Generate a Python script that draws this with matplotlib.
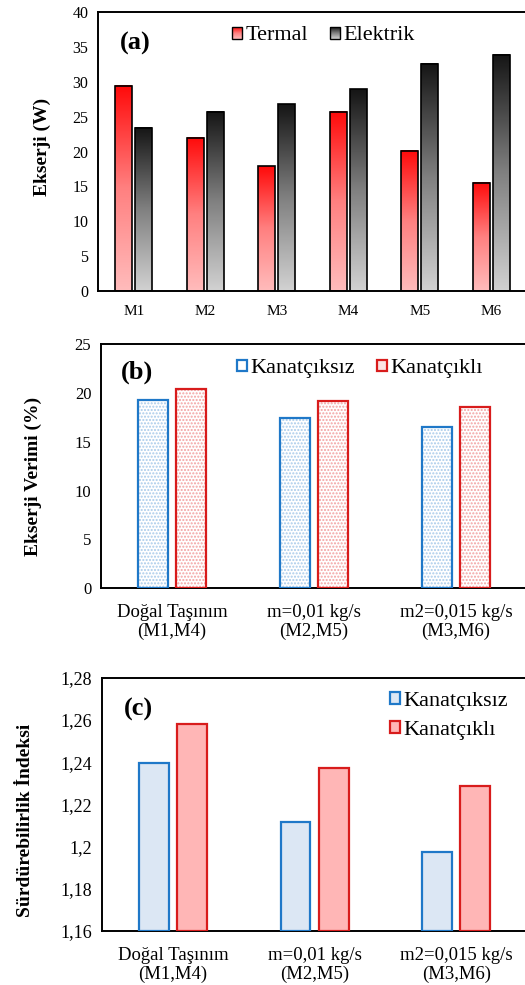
import numpy as np
import matplotlib
matplotlib.use('Agg')
import matplotlib.pyplot as plt
from matplotlib.patches import Rectangle, Patch
from matplotlib.legend_handler import HandlerBase
from matplotlib.image import BboxImage
from matplotlib.transforms import Bbox, TransformedBbox
from matplotlib.colors import LinearSegmentedColormap

plt.rcParams['font.family'] = ['Liberation Serif', 'DejaVu Serif']

# (a) exergy
modes = ['M1', 'M2', 'M3', 'M4', 'M5', 'M6']
termal = [29.4, 22.0, 17.9, 25.7, 20.1, 15.5]
elektrik = [23.4, 25.7, 26.8, 28.9, 32.6, 33.9]

# (b) and (c)
cases = ['Doğal Taşınım\n(M1,M4)', 'm=0,01 kg/s\n(M2,M5)', 'm2=0,015 kg/s\n(M3,M6)']
verim_kanatciksiz = [19.3, 17.4, 16.5]
verim_kanatcikli = [20.4, 19.2, 18.6]
sidx_kanatciksiz = [1.2396, 1.2116, 1.1974]
sidx_kanatcikli = [1.2579, 1.2374, 1.2288]
sidx_ticks = [1.16, 1.18, 1.20, 1.22, 1.24, 1.26, 1.28]
sidx_ticklabels = ['1,16', '1,18', '1,2', '1,22', '1,24', '1,26', '1,28']

red_cmap = LinearSegmentedColormap.from_list('r', ['#ffbcbc', '#ff8080', '#ff0a0a'])
gray_cmap = LinearSegmentedColormap.from_list('g', ['#d2d2d2', '#808080', '#151515'])
grad = np.linspace(0, 1, 256).reshape(-1, 1)

BLUE = '#1f78c8'
RED = '#d81c1c'


class GradientHandler(HandlerBase):
    def __init__(self, cmap):
        super().__init__()
        self.cmap = cmap

    def create_artists(self, legend, orig_handle, xdescent, ydescent,
                       width, height, fontsize, trans):
        bb = Bbox.from_bounds(-xdescent, -ydescent, width, height)
        img = BboxImage(TransformedBbox(bb, trans), cmap=self.cmap,
                        origin='lower', interpolation='bilinear')
        img.set_data(grad)
        rect = Rectangle((-xdescent, -ydescent), width, height,
                         facecolor='none', edgecolor='black', lw=1.0,
                         transform=trans)
        return [img, rect]


def style_axes(ax, tick_size):
    for s in ax.spines.values():
        s.set_linewidth(1.4)
    ax.tick_params(length=0, labelsize=tick_size, pad=7)


fig = plt.figure(figsize=(5.25, 9.85), dpi=100)

# ---- panel (a)
ax1 = fig.add_axes([98 / 525, 694 / 985, 429 / 525, 279 / 985])
x = np.arange(len(modes))
w = 0.235
off = 0.14
b1 = ax1.bar(x - off, termal, w, facecolor='none', edgecolor='black', lw=1.2, zorder=3)
b2 = ax1.bar(x + off, elektrik, w, facecolor='none', edgecolor='black', lw=1.2, zorder=3)
for bars, cmap in ((b1, red_cmap), (b2, gray_cmap)):
    for r in bars:
        ax1.imshow(grad, cmap=cmap, origin='lower', aspect='auto',
                   extent=(r.get_x(), r.get_x() + r.get_width(), 0, r.get_height()),
                   zorder=2, interpolation='bilinear')
ax1.set_xlim(-0.5, 5.5)
ax1.set_ylim(0, 40)
ax1.set_yticks(range(0, 41, 5))
ax1.set_xticks(x)
ax1.set_xticklabels(modes)
style_axes(ax1, 11.5)
ax1.tick_params(axis='x', labelsize=11, pad=10)
ax1.set_ylabel('Ekserji (W)', fontsize=14, fontweight='bold')
ax1.yaxis.set_label_coords(-0.110, 0.516)
ax1.text(0.087, 0.889, '(a)', transform=ax1.transAxes, fontsize=19,
         fontweight='bold', ha='center', va='center')
h1, h2 = Patch(), Patch()
ax1.legend([h1, h2], ['Termal', 'Elektrik'], handler_map={h1: GradientHandler(red_cmap), h2: GradientHandler(gray_cmap)},
           loc='center', bbox_to_anchor=(0.526, 0.914), ncol=2, frameon=False,
           fontsize=16, handlelength=0.45, handleheight=0.45, handletextpad=0.15,
           columnspacing=1.0, borderpad=0)

# ---- panel (b)
ax2 = fig.add_axes([101 / 525, 396.7 / 985, 426 / 525, 244.3 / 985])
x3 = np.arange(len(cases))
w3 = 0.21
off3 = 0.135
ax2.bar(x3 - off3, verim_kanatciksiz, w3, facecolor='white', edgecolor='#a9cbea',
        hatch='.....', lw=0, zorder=2)
ax2.bar(x3 - off3, verim_kanatciksiz, w3, facecolor='none', edgecolor=BLUE, lw=1.6, zorder=3)
ax2.bar(x3 + off3, verim_kanatcikli, w3, facecolor='white', edgecolor='#f2a2a2',
        hatch='.....', lw=0, zorder=2)
ax2.bar(x3 + off3, verim_kanatcikli, w3, facecolor='none', edgecolor=RED, lw=1.6, zorder=3)
ax2.set_xlim(-0.5, 2.5)
ax2.set_ylim(0, 25)
ax2.set_yticks(range(0, 26, 5))
ax2.set_xticks(x3)
ax2.set_xticklabels(cases, fontsize=13.5, linespacing=1.08)
style_axes(ax2, 12)
ax2.tick_params(axis='x', labelsize=13.5, pad=11.5)
ax2.set_ylabel('Ekserji Verimi (%)', fontsize=14, fontweight='bold')
ax2.yaxis.set_label_coords(-0.138, 0.456)
ax2.text(0.085, 0.885, '(b)', transform=ax2.transAxes, fontsize=19,
         fontweight='bold', ha='center', va='center')
hb = [Patch(facecolor='white', edgecolor=BLUE, lw=1.6),
      Patch(facecolor='#fbe3e3', edgecolor=RED, lw=1.6)]
ax2.legend(hb, ['Kanatçıksız', 'Kanatçıklı'], loc='center',
           bbox_to_anchor=(0.607, 0.898), ncol=2, frameon=False, fontsize=16,
           handlelength=0.45, handleheight=0.45, handletextpad=0.15,
           columnspacing=1.0, borderpad=0)

# ---- panel (c)
ax3 = fig.add_axes([102 / 525, 54 / 985, 425 / 525, 253.3 / 985])
ax3.bar(x3 - off3, np.array(sidx_kanatciksiz) - 1.16, w3, bottom=1.16,
        facecolor='#dce7f4', edgecolor=BLUE, lw=1.6, zorder=3, label='Kanatçıksız')
ax3.bar(x3 + off3, np.array(sidx_kanatcikli) - 1.16, w3, bottom=1.16,
        facecolor='#ffb6b6', edgecolor=RED, lw=1.6, zorder=3, label='Kanatçıklı')
ax3.set_xlim(-0.5, 2.5)
ax3.set_ylim(1.16, 1.28)
ax3.set_yticks(sidx_ticks)
ax3.set_yticklabels(sidx_ticklabels)
ax3.set_xticks(x3)
ax3.set_xticklabels(cases, fontsize=13.5, linespacing=1.12)
style_axes(ax3, 13)
ax3.tick_params(axis='x', labelsize=13.5, pad=11.5)
ax3.set_ylabel('Sürdürebilirlik İndeksi', fontsize=14, fontweight='bold')
ax3.yaxis.set_label_coords(-0.160, 0.438)
ax3.text(0.085, 0.876, '(c)', transform=ax3.transAxes, fontsize=19,
         fontweight='bold', ha='center', va='center')
ax3.legend(loc='center', bbox_to_anchor=(0.817, 0.85), frameon=False,
           fontsize=16, handlelength=0.45, handleheight=0.45, handletextpad=0.15,
           labelspacing=0.45, borderpad=0)

fig.savefig('out.png', dpi=100)
